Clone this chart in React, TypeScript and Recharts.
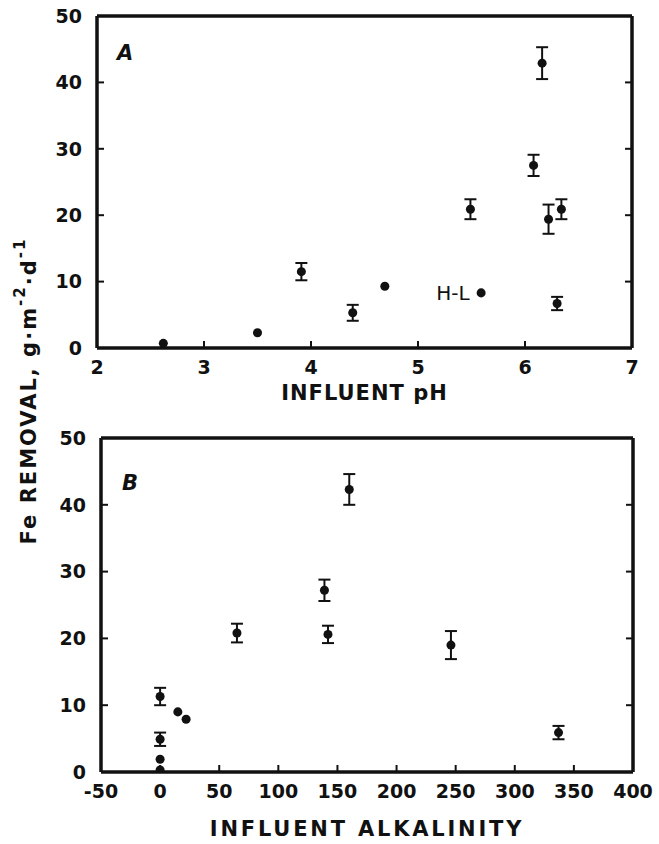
import { ErrorBar, LabelList, Scatter, ScatterChart, XAxis, YAxis, ZAxis } from 'recharts'

const feTicks = [0, 10, 20, 30, 40, 50]
const phTicks = [2, 3, 4, 5, 6, 7]
const alkTicks = [-50, 0, 50, 100, 150, 200, 250, 300, 350, 400]

// panel A: Fe removal against influent pH
const phPlain = [
  { ph: 2.62, fe: 0.7 },
  { ph: 3.5, fe: 2.3 },
  { ph: 4.69, fe: 9.3 },
]
const phNoted = [{ ph: 5.59, fe: 8.3, note: 'H-L' }]
const phBars = [
  { ph: 3.91, fe: 11.5, err: 1.3 },
  { ph: 4.39, fe: 5.3, err: 1.2 },
  { ph: 5.49, fe: 20.9, err: 1.5 },
  { ph: 6.08, fe: 27.5, err: 1.6 },
  { ph: 6.16, fe: 42.9, err: 2.4 },
  { ph: 6.22, fe: 19.4, err: 2.2 },
  { ph: 6.3, fe: 6.7, err: 1.0 },
  { ph: 6.34, fe: 20.9, err: 1.5 },
]

// panel B: Fe removal against influent alkalinity
const alkPlain = [
  { alk: 0, fe: 0.3 },
  { alk: 0, fe: 1.9 },
  { alk: 15, fe: 9.0 },
  { alk: 22, fe: 7.9 },
]
const alkBars = [
  { alk: 0, fe: 11.3, err: 1.3 },
  { alk: 0, fe: 4.9, err: 1.0 },
  { alk: 65, fe: 20.8, err: 1.4 },
  { alk: 139, fe: 27.2, err: 1.6 },
  { alk: 142, fe: 20.6, err: 1.3 },
  { alk: 160, fe: 42.3, err: 2.3 },
  { alk: 246, fe: 19.0, err: 2.1 },
  { alk: 337, fe: 5.9, err: 1.0 },
]

const ink = '#111'
const font = '"DejaVu Sans", sans-serif'
const frame = { stroke: ink, strokeWidth: 3.5 }
const tickLen = 7
const blank = () => ''

// ticks point into the plot, so the tick marks are drawn by these renderers
function LeftTick({ x, y, payload }: any) {
  return (
    <g>
      <line x1={x + 15} y1={y} x2={x + 15 + tickLen} y2={y} stroke={ink} strokeWidth={2} />
      <text x={x} y={y} dy="0.36em" textAnchor="end" fill={ink} fontSize={19} fontWeight="bold" fontFamily={font}>
        {payload.value}
      </text>
    </g>
  )
}

function BottomTick({ x, y, payload }: any) {
  return (
    <g>
      <line x1={x} y1={y - 12} x2={x} y2={y - 12 - tickLen} stroke={ink} strokeWidth={2} />
      <text x={x} y={y} dy="0.73em" textAnchor="middle" fill={ink} fontSize={19} fontWeight="bold" fontFamily={font}>
        {payload.value}
      </text>
    </g>
  )
}

function TopTick({ x, y }: any) {
  return <line x1={x} y1={y} x2={x} y2={y + tickLen} stroke={ink} strokeWidth={2} />
}

function RightTick({ x, y }: any) {
  return <line x1={x} y1={y} x2={x - tickLen} y2={y} stroke={ink} strokeWidth={2} />
}

function frameAxes(xDomain: number[], xTicks: number[]) {
  return [
    <XAxis
      key="top"
      xAxisId="top"
      orientation="top"
      mirror
      type="number"
      domain={xDomain}
      allowDataOverflow
      ticks={xTicks}
      interval={0}
      tickSize={0}
      tickMargin={0}
      tickFormatter={blank}
      tick={<TopTick />}
      tickLine={false}
      axisLine={frame}
    />,
    <YAxis
      key="right"
      yAxisId="right"
      orientation="right"
      mirror
      type="number"
      domain={[0, 50]}
      allowDataOverflow
      ticks={feTicks}
      interval={0}
      tickSize={0}
      tickMargin={0}
      tickFormatter={blank}
      tick={<RightTick />}
      tickLine={false}
      axisLine={frame}
    />,
  ]
}

function leftAxis() {
  return (
    <YAxis
      yAxisId="y"
      dataKey="fe"
      type="number"
      domain={[0, 50]}
      allowDataOverflow
      ticks={feTicks}
      interval={0}
      width={40}
      tickSize={0}
      tickMargin={15}
      tick={<LeftTick />}
      tickLine={false}
      axisLine={frame}
    />
  )
}

const titleFont = { fill: ink, fontSize: 21, fontWeight: 'bold', fontFamily: font }

export default function App() {
  return (
    <div style={{ position: 'absolute', left: 0, top: 0, width: 659, height: 844, background: '#fff' }}>
      <div style={{ position: 'absolute', left: 0, top: 0 }}>
        <ScatterChart width={659} height={410} margin={{ top: 16, right: 27, left: 57, bottom: 10 }}>
          <XAxis
            xAxisId="x"
            dataKey="ph"
            type="number"
            domain={[2, 7]}
            allowDataOverflow
            ticks={phTicks}
            interval={0}
            height={52}
            tickSize={0}
            tickMargin={12}
            tick={<BottomTick />}
            tickLine={false}
            axisLine={frame}
            label={{ value: 'INFLUENT pH', position: 'insideBottom', offset: 0, letterSpacing: 1, ...titleFont }}
          />
          {leftAxis()}
          {frameAxes([2, 7], phTicks)}
          <ZAxis range={[50, 50]} />
          <Scatter data={phPlain} xAxisId="x" yAxisId="y" fill={ink} isAnimationActive={false} />
          <Scatter data={phNoted} xAxisId="x" yAxisId="y" fill={ink} isAnimationActive={false}>
            <LabelList dataKey="note" position="left" offset={7} fill={ink} fontSize={20} fontFamily={font} />
          </Scatter>
          <Scatter data={phBars} xAxisId="x" yAxisId="y" fill={ink} isAnimationActive={false}>
            <ErrorBar dataKey="err" direction="y" width={6} stroke={ink} strokeWidth={2} isAnimationActive={false} />
          </Scatter>
        </ScatterChart>
      </div>

      <div style={{ position: 'absolute', left: 0, top: 420 }}>
        <ScatterChart width={659} height={424} margin={{ top: 18, right: 26, left: 61, bottom: 8 }}>
          <XAxis
            xAxisId="x"
            dataKey="alk"
            type="number"
            domain={[-50, 400]}
            allowDataOverflow
            ticks={alkTicks}
            interval={0}
            height={64}
            tickSize={0}
            tickMargin={12}
            tick={<BottomTick />}
            tickLine={false}
            axisLine={frame}
            label={{ value: 'INFLUENT ALKALINITY', position: 'insideBottom', offset: 0, letterSpacing: 2.8, ...titleFont }}
          />
          {leftAxis()}
          {frameAxes([-50, 400], alkTicks)}
          <ZAxis range={[50, 50]} />
          <Scatter data={alkPlain} xAxisId="x" yAxisId="y" fill={ink} isAnimationActive={false} />
          <Scatter data={alkBars} xAxisId="x" yAxisId="y" fill={ink} isAnimationActive={false}>
            <ErrorBar dataKey="err" direction="y" width={6} stroke={ink} strokeWidth={2} isAnimationActive={false} />
          </Scatter>
        </ScatterChart>
      </div>

      <svg
        width={659}
        height={844}
        style={{ position: 'absolute', left: 0, top: 0, pointerEvents: 'none' }}
        fontFamily={font}
        fill={ink}
      >
        <text x={117} y={60} fontSize={21} fontWeight="bold" fontStyle="italic">A</text>
        <text x={122} y={490} fontSize={21} fontWeight="bold" fontStyle="italic">B</text>
        <text
          x={29}
          y={391}
          fontSize={21}
          fontWeight="bold"
          letterSpacing={2}
          textAnchor="middle"
          dominantBaseline="central"
          transform="rotate(-90 29 391)"
        >
          Fe REMOVAL, g·m
          <tspan dy={-9} fontSize={15}>-2</tspan>
          <tspan dy={9}>·d</tspan>
          <tspan dy={-9} fontSize={15}>-1</tspan>
        </text>
      </svg>
    </div>
  )
}
